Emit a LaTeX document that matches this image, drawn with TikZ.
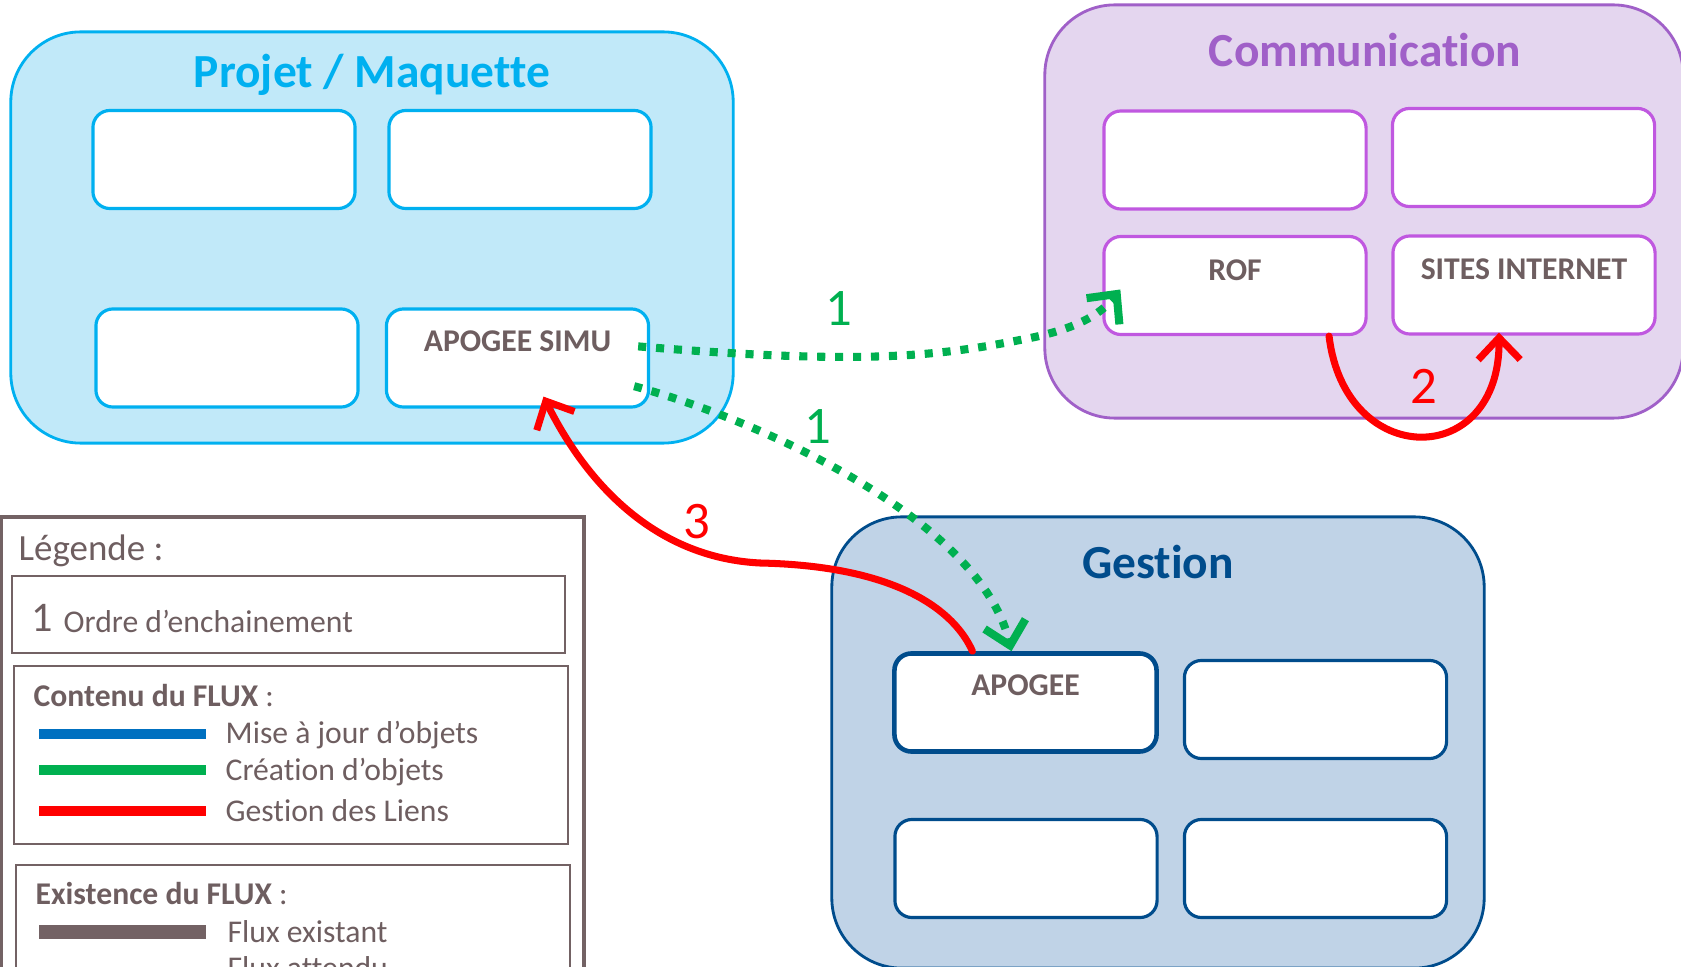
\documentclass[tikz,border=0pt]{standalone}
\usepackage{fontspec}
\setmainfont{Carlito}[RawFeature={-liga;-clig;-dlig}]
\usetikzlibrary{positioning,arrows.meta}
\definecolor{projc}{RGB}{0,176,240}
\definecolor{projf}{RGB}{193,233,249}
\definecolor{commc}{RGB}{160,96,200}
\definecolor{commf}{RGB}{228,214,239}
\definecolor{comminner}{RGB}{192,88,224}
\definecolor{gestc}{RGB}{0,76,140}
\definecolor{gestf}{RGB}{192,211,231}
\definecolor{leggray}{RGB}{115,98,100}
\definecolor{txtgray}{RGB}{110,94,96}
\definecolor{flowblue}{RGB}{0,112,192}
\definecolor{flowgreen}{RGB}{0,176,80}
\definecolor{flowred}{RGB}{255,0,0}
\begin{document}
\begin{tikzpicture}[x=0.01cm,y=-0.01cm,
  zone/.style={draw=#1,line width=0.8pt,rounded corners=0.7cm},
  inbox/.style={draw=#1,fill=white,line width=0.9pt,rounded corners=0.17cm,minimum width=2.62cm,minimum height=0.98cm},
  zonetitle/.style={font=\fontsize{13.5}{16}\selectfont\bfseries,text=#1},
  boxtxt/.style={inner sep=0pt,font=\fontsize{9}{11}\selectfont\bfseries,text=txtgray},
  legtxt/.style={anchor=west,inner sep=0pt,font=\fontsize{9}{11}\selectfont,text=txtgray},
  ordre/.style={font=\fontsize{15}{18}\selectfont,text=#1},
  greenflow/.style={flowgreen,line width=2.3pt,dash pattern=on 2.3pt off 2.8pt,-{Straight Barb[length=0.22cm,width=0.42cm]}},
  redflow/.style={flowred,line width=2pt,line cap=round,-{Straight Barb[length=0.22cm,width=0.42cm]}}]
\useasboundingbox (0,0) rectangle (1681,967);
\clip (0,0) rectangle (1681,967);

\node[zone=projc,fill=projf,minimum width=7.22cm,minimum height=4.11cm] (projet) at (372,237.5) {};
\node[zonetitle=projc] (projtitle) at (372,75) {Projet / Maquette};
\node[inbox=projc] (ptl) at (224,159.5) {};
\node[inbox=projc] (ptr) at (520,159.5) {};
\node[inbox=projc] (pbl) at (227,358) {};
\node[inbox=projc] (simu) at (517.5,358) {};
\node[boxtxt,below=0.23cm of simu.north] (simutxt) {APOGEE SIMU};

\node[zone=commc,fill=commf,minimum width=6.38cm,minimum height=4.13cm] (comm) at (1364,211.5) {};
\node[zonetitle=commc] (commtitle) at (1365,50) {Communication};
\node[inbox=comminner] (ctl) at (1235,160) {};
\node[inbox=comminner] (ctr) at (1523.5,157.5) {};
\node[inbox=comminner] (rof) at (1235,285.5) {};
\node[inbox=comminner] (sites) at (1524,285) {};
\node[boxtxt,below=0.24cm of rof.north] (roftxt) {ROF};
\node[boxtxt,below=0.24cm of sites.north] (sitestxt) {SITES INTERNET};

\node[zone=gestc,fill=gestf,minimum width=6.52cm,minimum height=4.51cm] (gestion) at (1158,742.5) {};
\node[zonetitle=gestc] (gesttitle) at (1158,562) {Gestion};
\node[inbox=gestc,line width=1.3pt] (apogee) at (1025.5,702.5) {};
\node[inbox=gestc] (gtr) at (1315.5,709.5) {};
\node[inbox=gestc] (gbl) at (1026,868.5) {};
\node[inbox=gestc] (gbr) at (1315.5,868.5) {};
\node[boxtxt,below=0.23cm of apogee.north] (apogeetxt) {APOGEE};

\draw[leggray,line width=1pt] (1,517) rectangle (584,990);
\node[legtxt,font=\fontsize{10.5}{13}\selectfont] (legtitle) at (18,551) {Légende :};
\draw[leggray,line width=0.6pt] (12,576) rectangle (565,653);
\node[legtxt,font=\fontsize{12}{14}\selectfont] (legone) at (31,618) {1};
\node[legtxt] (legordre) at (63,621) {Ordre d’enchainement};
\draw[leggray,line width=0.7pt] (14,666) rectangle (568,844);
\node[legtxt] (legcontenu) at (33,696) {\bfseries Contenu du FLUX \mdseries:};
\draw[flowblue,line width=3.1pt] (39,734) -- (206,734);
\node[legtxt] (legmaj) at (225,735) {Mise à jour d’objets};
\draw[flowgreen,line width=3.1pt] (39,770) -- (206,770);
\node[legtxt] (legcrea) at (225,772) {Création d’objets};
\draw[flowred,line width=3.1pt] (39,811) -- (206,811);
\node[legtxt] (legliens) at (225,811) {Gestion des Liens};
\draw[leggray,line width=0.7pt] (16,865) rectangle (570,990);
\node[legtxt] (legexist) at (35,894) {\bfseries Existence du FLUX \mdseries:};
\draw[leggray,line width=3.7pt] (39,932) -- (206,932);
\node[legtxt] (legexistant) at (227,932) {Flux existant};
\node[legtxt] (legattendu) at (227,968) {Flux attendu};

\coordinate (redbend) at (760,563);
\draw[greenflow] ([xshift=-0.12cm]simu.5) .. controls (850,364) and (930,358) .. (1020,340) .. controls (1075,330) and (1100,315) .. ([shift={(18,4)}]rof.west);
\draw[greenflow] ([xshift=-0.16cm]simu.-12) .. controls (760,420) and (980,520) .. ([xshift=-0.14cm]apogee.north);
\draw[redflow] ([xshift=-0.53cm]apogee.north) .. controls (955,612) and (900,566) .. (redbend) .. controls (660,558) and (590,490) .. ([shift={(26,-12)}]simu.south);
\draw[redflow] ([xshift=0.94cm]rof.south) .. controls (1345,470) and (1500,470) .. ([shift={(-25,-3)}]sites.south);
\node[ordre=flowgreen] (n1a) at (839,309) {1};
\node[ordre=flowgreen] (n1b) at (818,427) {1};
\node[ordre=flowred] (n3) at (697,522) {3};
\node[ordre=flowred] (n2) at (1424,386) {2};
\end{tikzpicture}
\end{document}
